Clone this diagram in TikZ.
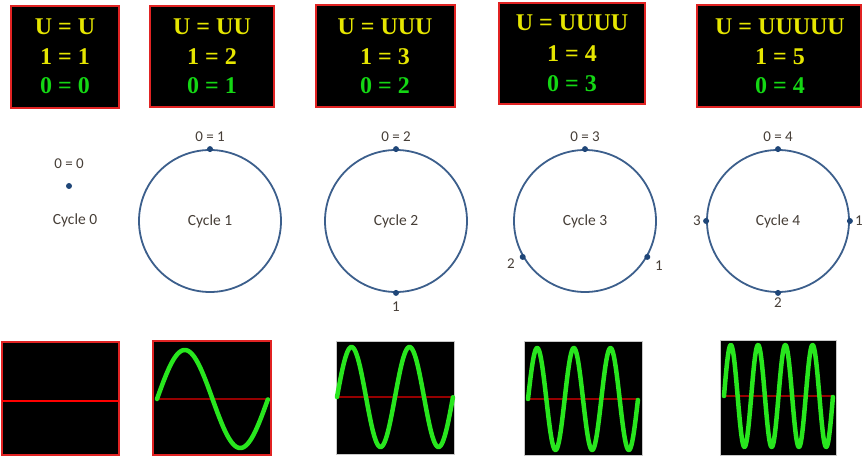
\documentclass[tikz,border=0pt]{standalone}
\usepackage{fontspec}
\setmainfont{Liberation Serif}
\newfontfamily\lblfont{Carlito}
\definecolor{boxred}{RGB}{225,35,35}
\definecolor{txtyellow}{RGB}{230,230,0}
\definecolor{txtgreen}{RGB}{20,215,20}
\definecolor{ringblue}{RGB}{60,95,140}
\definecolor{dotblue}{RGB}{31,70,120}
\definecolor{lblgray}{RGB}{70,62,55}
\definecolor{wavegreen}{RGB}{40,230,30}
\definecolor{axisred}{RGB}{150,0,0}
\definecolor{framegray}{RGB}{200,200,200}
\tikzset{
  topbox/.style={draw=boxred,fill=black,line width=1.5pt},
  ytxt/.style={anchor=base,inner sep=0pt,font=\fontsize{24}{26}\selectfont\bfseries,text=txtyellow},
  gtxt/.style={anchor=base,inner sep=0pt,font=\fontsize{24}{26}\selectfont\bfseries,text=txtgreen},
  ring/.style={circle,draw=ringblue,line width=1.8pt,minimum size=142pt,inner sep=0pt,
    font=\lblfont\fontsize{15.5}{17}\selectfont,text=lblgray},
  dotmark/.style={circle,fill=dotblue,inner sep=0pt,minimum size=6pt},
  lbl/.style={inner sep=0pt,font=\lblfont\fontsize{15}{17}\selectfont,text=lblgray},
  redframe/.style={draw=boxred,fill=black,line width=1.5pt},
  grayframe/.style={draw=framegray,fill=black,line width=1pt},
  axisline/.style={draw=axisred,line width=1.2pt},
  wave/.style={draw=wavegreen,line width=4.5pt,line cap=round,line join=round}
}
\begin{document}
\begin{tikzpicture}[x=1pt,y=-1pt]
\useasboundingbox[fill=white] (0,0) rectangle (863,457);

% ---- top boxes ----
\draw[topbox] (11,6) rectangle (119,108);
\node[ytxt] (t1a) at (65,35) {U = U};
\node[ytxt] (t1b) at (65,65) {1 = 1};
\node[gtxt] (t1c) at (65,94) {0 = 0};

\draw[topbox] (150,6) rectangle (274,107);
\node[ytxt] (t2a) at (212,35) {U = UU};
\node[ytxt] (t2b) at (212,65) {1 = 2};
\node[gtxt] (t2c) at (212,94) {0 = 1};

\draw[topbox] (316,5) rectangle (455,107);
\node[ytxt] (t3a) at (385,35) {U = UUU};
\node[ytxt] (t3b) at (385,65) {1 = 3};
\node[gtxt] (t3c) at (385,94) {0 = 2};

\draw[topbox] (499,3) rectangle (645,104);
\node[ytxt] (t4a) at (572,31) {U = UUUU};
\node[ytxt] (t4b) at (572,62) {1 = 4};
\node[gtxt] (t4c) at (572,92) {0 = 3};

\draw[topbox] (697,5) rectangle (861,107);
\node[ytxt] (t5a) at (780,35) {U = UUUUU};
\node[ytxt] (t5b) at (780,65) {1 = 5};
\node[gtxt] (t5c) at (780,94) {0 = 4};

% ---- cycles ----
\node[dotmark] (d0) at (69,186) {};
\node[lbl] (l0) at (69,164) {0 = 0};
\node[lbl,font=\lblfont\fontsize{15.5}{17}\selectfont] (c0) at (75,220) {Cycle 0};

\node[ring] (c1) at (210,221) {Cycle 1};
\node[dotmark] (d1a) at (c1.90) {};
\node[lbl,above=7pt] (l1a) at (d1a) {0 = 1};

\node[ring] (c2) at (396,221) {Cycle 2};
\node[dotmark] (d2a) at (c2.90) {};
\node[dotmark] (d2b) at (c2.-90) {};
\node[lbl,above=7pt] (l2a) at (d2a) {0 = 2};
\node[lbl,below=9pt] (l2b) at (d2b) {1};

\node[ring] (c3) at (585,221) {Cycle 3};
\node[dotmark] (d3a) at (c3.90) {};
\node[dotmark] (d3b) at (c3.-30) {};
\node[dotmark] (d3c) at (c3.210) {};
\node[lbl,above=7pt] (l3a) at (d3a) {0 = 3};
\node[lbl] (l3b) at (659,266) {1};
\node[lbl] (l3c) at (511,264) {2};

\node[ring] (c4) at (778,221) {Cycle 4};
\node[dotmark] (d4a) at (c4.90) {};
\node[dotmark] (d4b) at (c4.0) {};
\node[dotmark] (d4c) at (c4.-90) {};
\node[dotmark] (d4d) at (c4.180) {};
\node[lbl,above=7pt] (l4a) at (d4a) {0 = 4};
\node[lbl] (l4b) at (859,221) {1};
\node[lbl,below=5pt] (l4c) at (d4c) {2};
\node[lbl] (l4d) at (697,221) {3};

% ---- scopes ----
\draw[redframe] (2,342) rectangle (119,455);
\draw[draw=red,line width=1.2pt] (2,401) -- (119,401);

\draw[redframe] (153,341) rectangle (271,455);
\draw[axisline] (157,399) -- (268,399);
\draw[wave] plot[domain=0:1,samples=120,smooth] ({157+111*\x},{399-49*sin(360*\x)});

\draw[grayframe] (336,342) rectangle (454,454);
\draw[axisline] (337,397) -- (453,397);
\draw[wave] plot[domain=0:1,samples=160,smooth] ({337+116*\x},{397-50*sin(720*\x)});

\draw[grayframe] (524,342) rectangle (642,455);
\draw[axisline] (528,399) -- (638,399);
\draw[wave] plot[domain=0:1,samples=200,smooth] ({528+110*\x},{399-51*sin(1080*\x)});

\draw[grayframe] (720,341) rectangle (836,455);
\draw[axisline] (724,396) -- (833,396);
\draw[wave] plot[domain=0:1,samples=240,smooth] ({724+109*\x},{396-51*sin(1440*\x)});
\end{tikzpicture}
\end{document}
